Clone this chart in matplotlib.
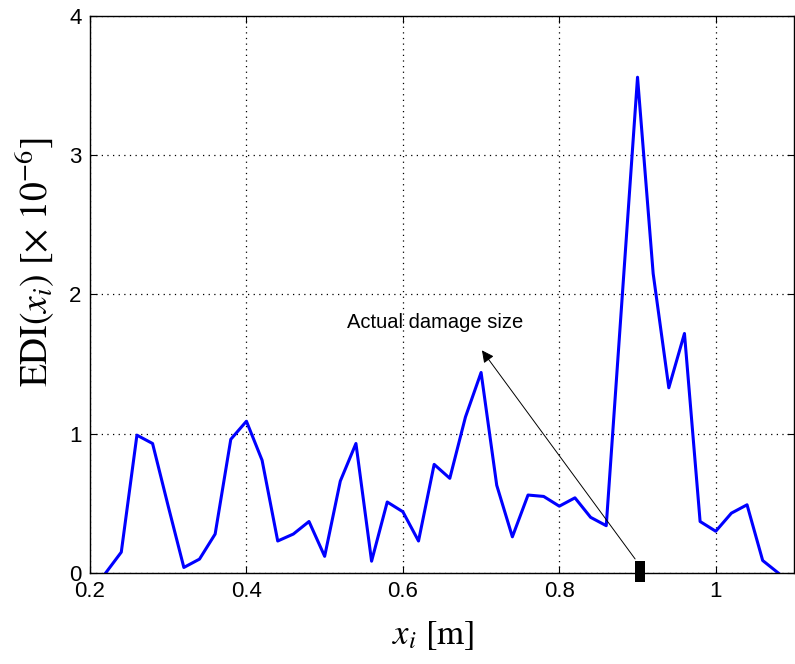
import matplotlib.pyplot as plt
import numpy as np

plt.rcParams['font.family'] = ['Liberation Sans', 'DejaVu Sans']
plt.rcParams['mathtext.fontset'] = 'stix'

# positions along the beam [m]
x_pos = np.round(np.arange(0.22, 1.081, 0.02), 2)
# EDI values (x 1e-6)
edi = [0.00, 0.15, 0.99, 0.93, 0.48, 0.04, 0.10, 0.28, 0.96, 1.09,
       0.81, 0.23, 0.28, 0.37, 0.12, 0.66, 0.93, 0.085, 0.51, 0.44,
       0.23, 0.78, 0.68, 1.12, 1.44, 0.63, 0.26, 0.56, 0.55, 0.48,
       0.54, 0.40, 0.34, 1.95, 3.56, 2.15, 1.33, 1.72, 0.37, 0.30,
       0.43, 0.49, 0.09, 0.00]

damage_x = 0.903
text_xy = (0.641, 1.80)
arrow_tip = (0.699, 1.615)

fig = plt.figure(figsize=(7.95, 6.64), dpi=100)
ax = fig.add_axes([0.1132, 0.137, 0.8855, 0.839])

ax.plot(x_pos, edi, color='#0000ff', lw=2.2)

# actual damage marker
ax.bar(damage_x, 0.15, width=0.012, bottom=-0.065, color='black', clip_on=False, zorder=5)

ax.annotate('', xy=arrow_tip, xytext=(damage_x - 0.004, 0.085),
            arrowprops=dict(arrowstyle='-|>', color='black', lw=0.7,
                            mutation_scale=18))
ax.text(text_xy[0], text_xy[1], 'Actual damage size', ha='center', va='center',
        fontsize=14.5)

ax.set_xlim(0.2, 1.1)
ax.set_ylim(0, 4)
ax.set_xticks([0.2, 0.4, 0.6, 0.8, 1.0])
ax.set_xticklabels(['0.2', '0.4', '0.6', '0.8', '1'])
ax.set_yticks([0, 1, 2, 3, 4])
ax.tick_params(direction='in', top=True, right=True, labelsize=16, length=5, pad=6)
ax.grid(True, color='black', linestyle=(0, (1, 3.5)), lw=0.9)
for s in ax.spines.values():
    s.set_linewidth(1.0)

fig.text(433 / 795, 1 - 636 / 664, r'$x_i\ [\mathrm{m}]$', fontsize=25,
         ha='center', va='center')
fig.text(35 / 795, 1 - 262 / 664, r'$\mathrm{EDI}(x_i)\ [\times\ 10^{-6}]$',
         fontsize=27, rotation=90, ha='center', va='center')

fig.savefig('out.png', dpi=100)
